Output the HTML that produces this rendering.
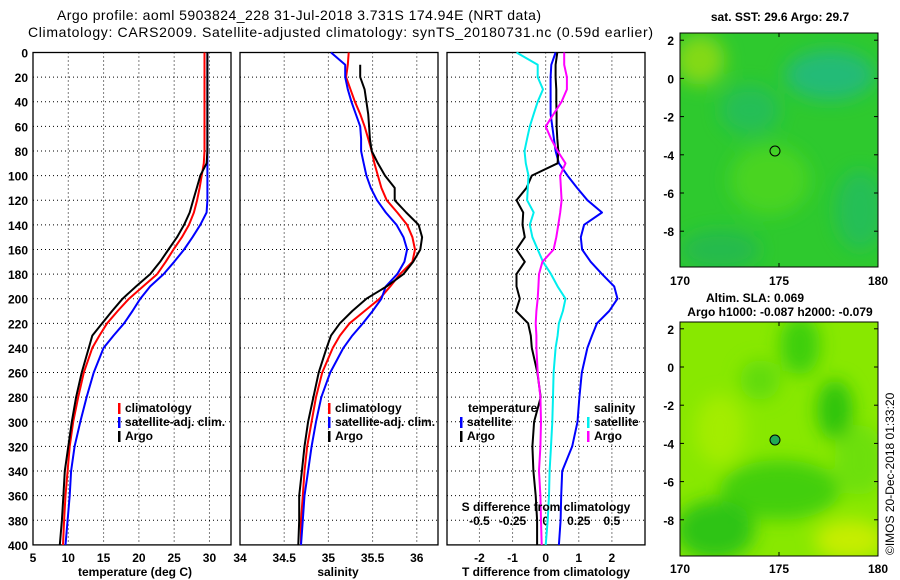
<!DOCTYPE html>
<html><head><meta charset="utf-8"><style>
body{margin:0;background:#fff}
svg{display:block;font-family:"Liberation Sans",sans-serif}
.t{font-weight:bold;font-size:12px}
</style></head><body>
<svg id="c" width="900" height="580" viewBox="0 0 900 580">
<defs>
<filter id="bl" x="-50%" y="-50%" width="200%" height="200%"><feGaussianBlur stdDeviation="9"/></filter>
<filter id="bl2" x="-50%" y="-50%" width="200%" height="200%"><feGaussianBlur stdDeviation="4"/></filter>
<clipPath id="cm1"><rect x="680" y="33" width="198" height="234"/></clipPath>
<clipPath id="cm2"><rect x="680" y="322" width="198" height="234"/></clipPath>
</defs>
<text x="57" y="20" font-size="14" textLength="484">Argo profile: aoml 5903824_228 31-Jul-2018 3.731S 174.94E (NRT data)</text>
<text x="28" y="37" font-size="14" textLength="625">Climatology: CARS2009. Satellite-adjusted climatology: synTS_20180731.nc (0.59d earlier)</text>
<g id="plots"></g>
<!-- maps -->
<g>
<g clip-path="url(#cm1)">
<rect x="680" y="33" width="198" height="234" fill="#2ec92e"/>
<g filter="url(#bl)">
<ellipse cx="830" cy="75" rx="45" ry="25" fill="#1fb88a" opacity="0.8"/>
<ellipse cx="750" cy="110" rx="30" ry="25" fill="#22b870" opacity="0.6"/>
<ellipse cx="770" cy="180" rx="40" ry="35" fill="#55d820" opacity="0.7"/>
<ellipse cx="700" cy="60" rx="25" ry="25" fill="#99dd11" opacity="0.8"/>
<ellipse cx="720" cy="250" rx="40" ry="20" fill="#20b060" opacity="0.6"/>
<ellipse cx="860" cy="210" rx="25" ry="40" fill="#20b870" opacity="0.6"/>
</g>
</g>
<circle cx="775" cy="151" r="5" fill="none" stroke="#000" stroke-width="1"/>
<rect x="680" y="33" width="198" height="234" fill="none" stroke="#000"/>
</g>
<g>
<g clip-path="url(#cm2)">
<rect x="680" y="322" width="198" height="234" fill="#88e800"/>
<g filter="url(#bl)">
<ellipse cx="800" cy="345" rx="20" ry="30" fill="#33cc11" opacity="0.9"/>
<ellipse cx="835" cy="410" rx="18" ry="30" fill="#22c011" opacity="0.9"/>
<ellipse cx="780" cy="490" rx="60" ry="30" fill="#3acc10" opacity="0.9"/>
<ellipse cx="715" cy="530" rx="40" ry="30" fill="#22c015" opacity="0.9"/>
<ellipse cx="760" cy="380" rx="20" ry="20" fill="#55d810" opacity="0.8"/>
<ellipse cx="860" cy="460" rx="25" ry="35" fill="#66dd10" opacity="0.8"/>
<ellipse cx="720" cy="430" rx="25" ry="35" fill="#aaee00" opacity="0.8"/>
<ellipse cx="850" cy="540" rx="35" ry="20" fill="#ccee00" opacity="0.9"/>
</g>
</g>
<circle cx="775" cy="440" r="5" fill="#22aa55" stroke="#000" stroke-width="1"/>
<rect x="680" y="322" width="198" height="234" fill="none" stroke="#000"/>
</g>
<text x="780" y="21" text-anchor="middle" class="t">sat. SST: 29.6 Argo: 29.7</text>
<text x="755" y="302" text-anchor="middle" class="t">Altim. SLA: 0.069</text>
<text x="780" y="316" text-anchor="middle" class="t">Argo h1000: -0.087 h2000: -0.079</text>
<text transform="translate(894,555) rotate(-90)" font-size="12">©IMOS 20-Dec-2018 01:33:20</text>
<g id="maps-axes"></g>
</svg>
<script>
// depth levels (m)
const depths=[0,10,20,30,40,50,60,70,80,90,100,110,120,130,140,150,160,170,180,190,200,210,220,230,240,260,280,300,320,340,360,380,400];
// temperature (deg C)
const tClim=[29.3,29.3,29.3,29.3,29.3,29.3,29.3,29.3,29.3,29.2,28.9,28.6,28.25,27.8,27.1,26.1,24.9,23.8,22.6,20.6,18.6,17.0,15.5,14.4,13.4,12.2,11.4,10.7,10.2,9.9,9.6,9.4,9.25];
const tSat=[29.7,29.7,29.7,29.7,29.7,29.7,29.7,29.7,29.7,29.7,29.7,29.7,29.7,29.6,28.7,27.6,26.4,25.0,23.5,21.6,20.2,19.1,17.9,16.4,15.0,13.6,12.6,11.7,10.9,10.4,10.2,9.9,9.6];
const tArgo=[29.7,29.7,29.7,29.7,29.7,29.7,29.7,29.7,29.7,29.6,28.7,28.2,27.7,27.2,26.4,25.4,24.2,23.0,21.6,19.6,17.7,16.2,14.8,13.4,12.9,11.9,11.1,10.5,10.0,9.5,9.3,9.1,8.8];
// salinity
const sClim=[35.23,35.22,35.2,35.25,35.3,35.36,35.41,35.45,35.49,35.52,35.56,35.6,35.66,35.78,35.89,35.95,35.98,35.95,35.81,35.7,35.58,35.41,35.24,35.13,35.05,34.93,34.86,34.81,34.76,34.73,34.71,34.69,34.69];
const sSat=[35.03,35.19,35.19,35.22,35.26,35.31,35.36,35.37,35.37,35.4,35.43,35.48,35.55,35.65,35.77,35.85,35.89,35.86,35.78,35.65,35.6,35.5,35.39,35.27,35.17,35.02,34.92,34.86,34.81,34.77,34.73,34.71,34.69];
const sArgo=[null,35.36,35.36,35.41,35.43,35.45,35.46,35.47,35.49,35.56,35.64,35.75,35.75,35.88,36.02,36.06,36.04,35.96,35.85,35.66,35.43,35.27,35.13,35.03,34.98,34.89,34.83,34.77,34.73,34.7,34.67,34.67,34.66];
// T differences (deg C)
const dTSat=[0.3,0.17,0.15,0.15,0.15,0.15,0.2,0.25,0.3,0.4,0.66,0.95,1.26,1.7,1.16,1.06,1.1,1.36,1.7,2.07,2.17,1.92,1.55,1.4,1.26,1.09,1.02,0.96,0.8,0.5,0.47,0.45,0.4];
const dTArgo=[0.35,0.3,0.3,0.32,0.32,0.33,0.33,0.35,0.38,0.36,-0.42,-0.58,-0.88,-0.68,-0.7,-0.63,-0.88,-0.63,-0.88,-0.88,-0.78,-0.9,-0.53,-0.45,-0.42,-0.25,-0.15,-0.35,-0.4,-0.37,-0.3,-0.26,-0.26];
// S differences
const dSSat=[-0.22,-0.06,-0.06,-0.02,-0.06,-0.09,-0.12,-0.14,-0.16,-0.15,-0.13,-0.135,-0.14,-0.09,-0.12,-0.1,-0.06,-0.02,0.04,0.09,0.15,0.13,0.1,0.09,0.075,0.06,0.055,0.05,0.04,0.03,0.025,0.015,0.0];
const dSArgo=[0.14,0.14,0.16,0.16,0.12,0.06,0.0,0.04,0.09,0.15,0.11,0.115,0.12,0.11,0.095,0.08,0.06,-0.025,-0.05,-0.055,-0.06,-0.07,-0.075,-0.07,-0.07,-0.06,-0.04,-0.035,-0.04,-0.05,-0.04,-0.035,-0.03];
// axis ticks
const depthTicks=[0,20,40,60,80,100,120,140,160,180,200,220,240,260,280,300,320,340,360,380,400];
const tTicks=[5,10,15,20,25,30];
const sTicks=[34,34.5,35,35.5,36];
const dTTicks=[-2,-1,0,1,2];
const dSTicks=[-0.5,-0.25,0,0.25,0.5];
const dSTickLabels=["-0.5","-0.25","0","0.25","0.5"];
const lonTicks=[170,175,180];
const latTicks=[2,0,-2,-4,-6,-8];

const NS='http://www.w3.org/2000/svg';
const root=document.getElementById('plots');
function el(tag,attrs,parent){const e=document.createElementNS(NS,tag);for(const k in attrs)e.setAttribute(k,attrs[k]);(parent||root).appendChild(e);return e;}
const Y0=52.5,YK=1.231;
const yD=d=>Y0+d*YK;
const panels=[
 {x0:33,x1:231,min:5,max:33.05,name:'temperature-panel'},
 {x0:240,x1:438,min:34,max:36.24,name:'salinity-panel'},
 {x0:447,x1:645,min:-2.98,max:3.0,name:'difference-panel'}];
const sx=(p,v)=>p.x0+(v-p.min)/(p.max-p.min)*(p.x1-p.x0);
function frame(p,xt,labels,ly){
  const g=el('g',{});
  
  
  depthTicks.forEach(d=>{if(d>0&&d<400){const l=el('line',{x1:p.x0,x2:p.x1,y1:yD(d),y2:yD(d),stroke:'#000','stroke-dasharray':'1 3','stroke-width':1},g);
    }});
  xt.forEach((v,i)=>{const x=sx(p,v);if(x>p.x0+1){const l=el('line',{x1:x,x2:x,y1:Y0,y2:yD(400),stroke:'#000','stroke-dasharray':'1 3','stroke-width':1},g);
    }
    if(labels){const t=el('text',{x:x,y:ly,'text-anchor':'middle',class:'t'},g);t.textContent=labels[i];
    }});
  el('rect',{x:p.x0,y:Y0,width:p.x1-p.x0,height:yD(400)-Y0,fill:'none',stroke:'#000','stroke-width':1.3},g);
  return g;
}
function series(p,vals,col,w,name,dep){
  const pts=[];vals.forEach((v,i)=>{if(v!==null)pts.push(sx(p,v).toFixed(1)+','+yD((dep||depths)[i]).toFixed(1));});
  const pl=el('polyline',{points:pts.join(' '),fill:'none',stroke:col,'stroke-width':w,'stroke-linejoin':'round'});
  
  
}
frame(panels[0],tTicks,tTicks.map(String),562);
frame(panels[1],sTicks,sTicks.map(String),562);
frame(panels[2],dTTicks,dTTicks.map(String),562);
// depth labels
depthTicks.forEach(d=>{const t=el('text',{x:28,y:yD(d)+5,'text-anchor':'end',class:'t'});t.textContent=d;
  });
// S diff axis inside panel 3
const pS={x0:447,x1:645,min:panels[2].min/4,max:panels[2].max/4};
dSTicks.forEach((v,i)=>{const t=el('text',{x:sx(pS,v),y:525,'text-anchor':'middle',class:'t'});t.textContent=dSTickLabels[i];
  });
// series
series(panels[0],tClim,'#f00',2,'temperature-climatology-line');
series(panels[0],tSat,'#00f',2,'temperature-satellite-line');
series(panels[0],tArgo,'#000',2,'temperature-argo-line');
series(panels[1],sClim,'#f00',2,'salinity-climatology-line');
series(panels[1],sSat,'#00f',2,'salinity-satellite-line');
series(panels[1],sArgo,'#000',2,'salinity-argo-line');
series(panels[2],dTSat,'#00f',2,'t-diff-satellite-line');
series(panels[2],dTArgo,'#000',2,'t-diff-argo-line');
series(pS,dSSat,'#0ee',2,'s-diff-satellite-line');
series(pS,dSArgo,'#f0f',2,'s-diff-argo-line');
// axis titles
function txt(x,y,s,name,anchor){const t=el('text',{x:x,y:y,'text-anchor':anchor||'middle',class:'t'});t.textContent=s;
  return t;}
txt(135,576,'temperature (deg C)','x-axis-title-temperature');
txt(338,576,'salinity','x-axis-title-salinity');
txt(546,576,'T difference from climatology','x-axis-title-t-diff');
txt(546,511,'S difference from climatology','s-diff-axis-title');
// legends
function leg(x,y,col,label){const r=el('rect',{x:x,y:y-9,width:2.5,height:11,fill:col});
  
  txt(x+7,y,label,'legend-entry','start');}
[[118,'#f00','climatology'],[118,'#00f','satellite-adj. clim.'],[118,'#000','Argo']].forEach((a,i)=>leg(a[0],412+i*14,a[1],a[2]));
[[328,'#f00','climatology'],[328,'#00f','satellite-adj. clim.'],[328,'#000','Argo']].forEach((a,i)=>leg(a[0],412+i*14,a[1],a[2]));
txt(468,412,'temperature','legend-header-temperature','start');
txt(594,412,'salinity','legend-header-salinity','start');
leg(460,426,'#00f','satellite');leg(460,440,'#000','Argo');
leg(587,426,'#0ee','satellite');leg(587,440,'#f0f','Argo');
// map axes
const mg=document.getElementById('maps-axes');
[[33,78.4,285],[322,367,573]].forEach(m=>{
  lonTicks.forEach(v=>{const x=680+(v-170)*19.8;const t=el('text',{x:x,y:m[2],'text-anchor':'middle',class:'t'},mg);t.textContent=v;
    
    el('line',{x1:x,x2:x,y1:m[0],y2:m[0]+4,stroke:'#000'},mg);el('line',{x1:x,x2:x,y1:m[0]+234,y2:m[0]+230,stroke:'#000'},mg);});
  latTicks.forEach(v=>{const y=m[1]-v*19.1;const t=el('text',{x:674,y:y+5,'text-anchor':'end',class:'t'},mg);t.textContent=v;
    
    el('line',{x1:680,x2:684,y1:y,y2:y,stroke:'#000'},mg);el('line',{x1:878,x2:874,y1:y,y2:y,stroke:'#000'},mg);});
});
</script>
</body></html>
